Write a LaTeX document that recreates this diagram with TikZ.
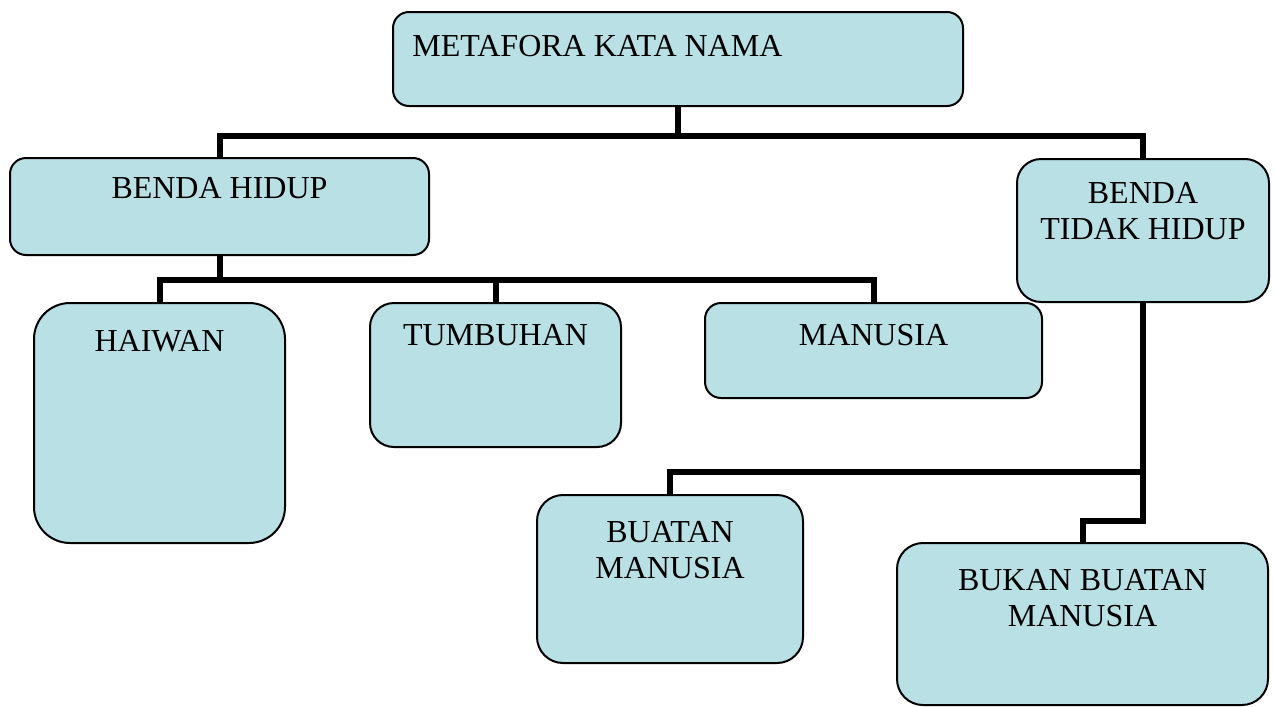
\documentclass[tikz,border=0pt]{standalone}
\usepackage{fontspec}
\setmainfont{Liberation Serif}
\usetikzlibrary{positioning}
\definecolor{kotakbiru}{RGB}{185,224,228}

\begin{document}
\begin{tikzpicture}[
    x=0.5pt, y=-0.5pt,
    kotak/.style={draw=black, line width=1pt, fill=kotakbiru, inner sep=0pt},
    teks/.style={inner sep=0pt, align=center, font=\fontsize{16}{18}\selectfont},
    line/.style={line width=3pt}
]
    \useasboundingbox (0,0) rectangle (1275,707);

    % Kotak induk
    \node[kotak, minimum width=285pt, minimum height=47pt, rounded corners=8pt] (meta) at (678,59) {};
    \node[teks, below right=12pt and 10pt of meta.north west] (tmeta) {METAFORA KATA NAMA};

    % Aras kedua
    \node[kotak, minimum width=209.5pt, minimum height=48.5pt, rounded corners=8pt] (hidup) at (219.5,206.5) {};
    \node[teks, below=10pt of hidup.north] (thidup) {BENDA HIDUP};
    \node[kotak, minimum width=126pt, minimum height=71.5pt, rounded corners=12pt] (tidak) at (1143,230.5) {};
    \node[teks, below=12pt of tidak.north] (ttidak) {BENDA\\TIDAK HIDUP};

    % Benda hidup
    \node[kotak, minimum width=125.5pt, minimum height=120pt, rounded corners=18pt] (haiwan) at (159.5,423) {};
    \node[teks, below=14pt of haiwan.north] (thaiwan) {HAIWAN};
    \node[kotak, minimum width=125.5pt, minimum height=72pt, rounded corners=12pt] (tumbuhan) at (495.5,375) {};
    \node[teks, below=11pt of tumbuhan.north] (ttumbuhan) {TUMBUHAN};
    \node[kotak, minimum width=168.5pt, minimum height=47.5pt, rounded corners=8pt] (manusia) at (873.5,350.5) {};
    \node[teks, below=11pt of manusia.north] (tmanusia) {MANUSIA};

    % Benda tidak hidup
    \node[kotak, minimum width=133pt, minimum height=84pt, rounded corners=13pt] (buatan) at (670,579) {};
    \node[teks, below=13.5pt of buatan.north] (tbuatan) {BUATAN\\MANUSIA};
    \node[kotak, minimum width=185.5pt, minimum height=81pt, rounded corners=13pt] (bukan) at (1082.5,624) {};
    \node[teks, below=13.5pt of bukan.north] (tbukan) {BUKAN BUATAN\\MANUSIA};

    % Garis penghubung
    \draw[line] (meta.south) -- ++(0,29) -| (hidup.north);
    \draw[line] (meta.south) ++(0,29) -| (tidak.north);

    \draw[line] (hidup.south) -- ++(0,24) -| (haiwan.north);
    \draw[line] (hidup.south) ++(0,24) -| (tumbuhan.north);
    \draw[line] (hidup.south) ++(0,24) -| (manusia.north);

    \draw[line] (tidak.south) -- ++(0,217.5) -| (bukan.north);
    \draw[line] (tidak.south) ++(0,169) -| (buatan.north);
\end{tikzpicture}
\end{document}
